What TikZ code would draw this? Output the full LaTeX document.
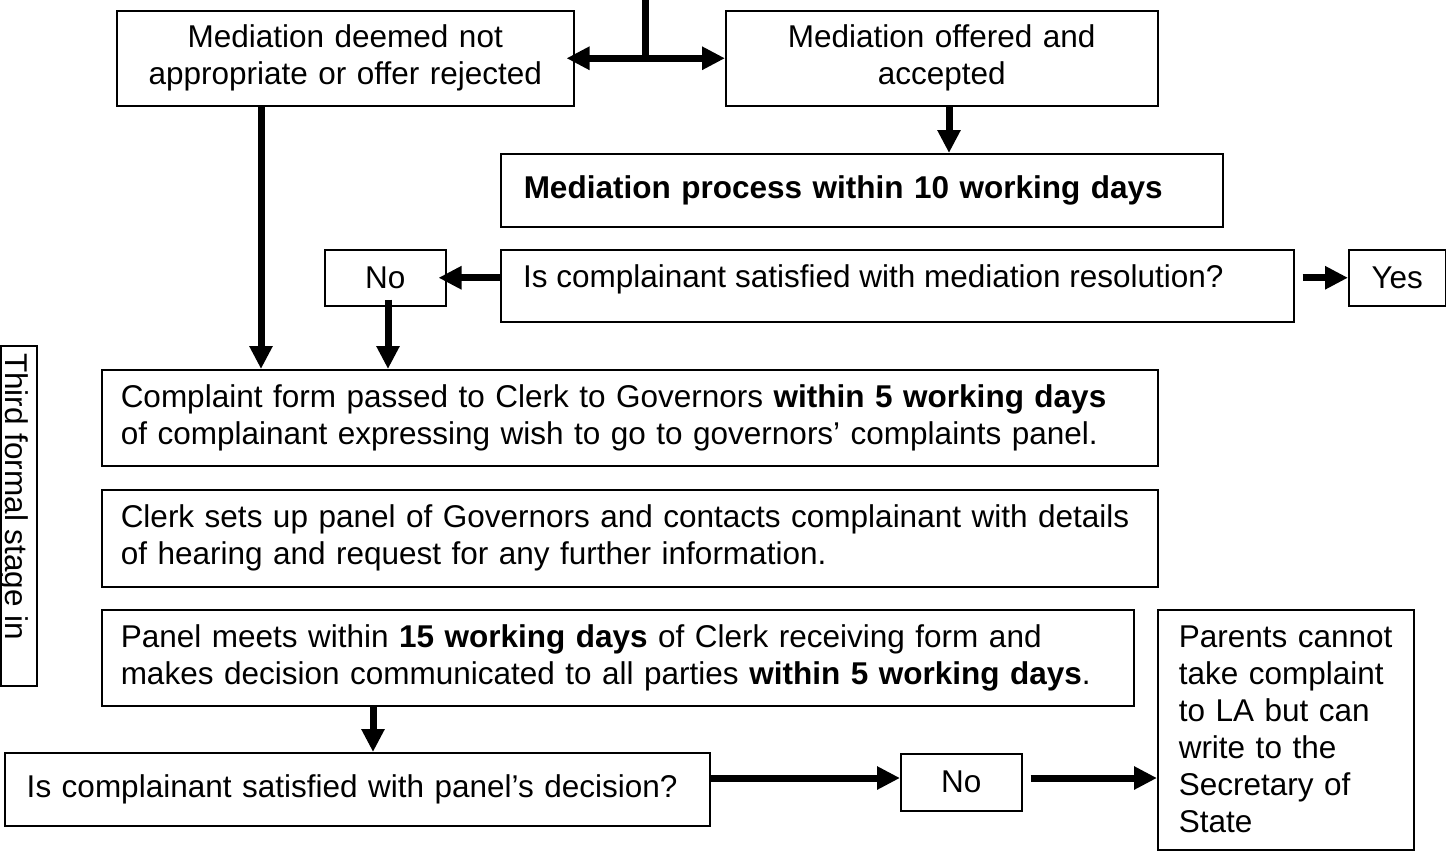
\documentclass[tikz,border=0pt]{standalone}
\usepackage{fontspec}
\setmainfont{Liberation Sans}
\usetikzlibrary{arrows.meta,calc}
\begin{document}
\begin{tikzpicture}[x=1pt,y=-1pt,
  every node/.style={font=\fontsize{31.5}{37}\selectfont},
  box/.style={draw, line width=1.5pt, inner xsep=20pt, inner ysep=0pt, anchor=north west},
  arr/.style={line width=7pt, -{Triangle[length=23pt,width=22pt]}},
  biarr/.style={line width=7pt, {Triangle[length=23pt,width=22pt]}-{Triangle[length=23pt,width=22pt]}},
  thick line/.style={line width=7pt}
]
\useasboundingbox (0,0) rectangle (1446,855);

% boxes
\node[box, text width=417pt, align=center, minimum height=95pt] (m1) at (116,10)
  {Mediation deemed not\\appropriate or offer rejected};
\node[box, text width=392pt, align=center, minimum height=95pt] (m2) at (725,10)
  {Mediation offered and\\accepted};
\node[box, inner xsep=23pt, text width=676pt, align=left, minimum height=73pt] (mp) at (500,153)
  {\mbox{\textbf{Mediation process within 10 working days}}};
\node[box, inner xsep=0pt, minimum width=121pt, minimum height=56pt] (nq) at (324,249) {No};
\node[box, inner xsep=0pt, minimum width=793pt, minimum height=72pt] (mq) at (500,249) {};
\node[anchor=west, inner sep=0pt] (mqt) at ($(mq.west |- nq.center)+(23,2)$)
  {Is complainant satisfied with mediation resolution?};
\node[box, inner xsep=0pt, minimum width=97pt, minimum height=56pt] (yes) at (1348,249) {Yes};

\node[box, inner xsep=19pt, text width=1018pt, align=left, minimum height=96pt] (cf) at (101,369)
  {\mbox{Complaint form passed to Clerk to Governors \textbf{within 5 working days}}\\
   \mbox{of complainant expressing wish to go to governors’ complaints panel.}};
\node[box, inner xsep=19pt, text width=1018pt, align=left, minimum height=97pt] (cs) at (101,489)
  {\mbox{Clerk sets up panel of Governors and contacts complainant with details}\\
   \mbox{of hearing and request for any further information.}};
\node[box, inner xsep=19pt, text width=994pt, align=left, minimum height=96pt] (pm) at (101,609)
  {\mbox{Panel meets within \textbf{15 working days} of Clerk receiving form and}\\
   \mbox{makes decision communicated to all parties \textbf{within 5 working days}.}};
\node[box, inner xsep=22pt, text width=661pt, align=left, minimum height=73pt] (pq) at (4,752)
  {\mbox{Is complainant satisfied with panel’s decision?}};
\node[box, inner xsep=0pt, minimum width=121pt, minimum height=57pt] (no2) at (900,753) {No};
\node[box, inner xsep=21pt, text width=214pt, align=left, minimum height=240pt] (pa) at (1157,609)
  {\mbox{Parents cannot}\\\mbox{take complaint}\\\mbox{to LA but can}\\\mbox{write to the}\\\mbox{Secretary of}\\\mbox{State}};

% side box with clipped vertical text
\node[box, inner xsep=0pt, minimum width=36pt, minimum height=340pt] (side) at (0,345) {};
\begin{scope}
  \clip (side.south west) rectangle (side.north east);
  \node[rotate=-90, anchor=north west, inner sep=0pt] (sidet) at ($(side.north east)+(-9,8)$)
    {Third formal stage in};
\end{scope}

% connectors
\coordinate (top) at (645,-5);
\draw[thick line] (top) -- (top |- m1.east);
\draw[biarr] ($(m1.east)+(-8,0)$) -- (m2.west);
\coordinate (a1) at (261,0);
\draw[arr] (m1.south -| a1) -- (cf.north -| a1);
\coordinate (a2) at (949,0);
\draw[arr] (m2.south -| a2) -- (mp.north -| a2);
\draw[arr] (mq.west |- nq.east) -- ($(nq.east)+(-8,0)$);
\draw[arr] ($(mq.east |- yes.west)+(8,0)$) -- (yes.west);
\coordinate (a3) at (388,0);
\draw[arr] ($(nq.south -| a3)+(0,-7)$) -- (cf.north -| a3);
\coordinate (a4) at (373,0);
\draw[arr] (pm.south -| a4) -- (pq.north -| a4);
\coordinate (a5) at (0,778);
\draw[arr] (pq.east |- a5) -- (no2.west |- a5);
\draw[arr] ($(no2.east |- a5)+(8,0)$) -- (pa.west |- a5);
\end{tikzpicture}
\end{document}
